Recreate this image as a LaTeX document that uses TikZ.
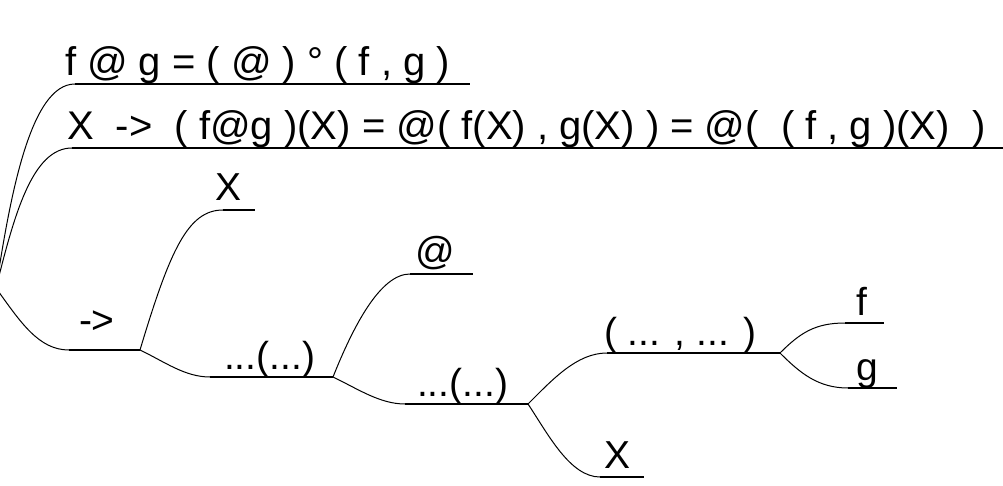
\documentclass[tikz,border=0pt]{standalone}
\usepackage{fontspec}
\setmainfont{Liberation Sans}
\begin{document}
\begin{tikzpicture}[x=1pt,y=-1pt,
  lbl/.style={inner sep=0pt,outer sep=0pt,font=\fontsize{39}{46}\selectfont},
  big/.style={lbl,font=\fontsize{40}{47}\selectfont},
  conn/.style={line width=1pt},
  bar/.style={line width=1.4pt}]
\useasboundingbox (0,0) rectangle (1003,486);
% named points
\coordinate (R) at (-4,288);
\coordinate (l1s) at (75,84);   \coordinate (l1e) at (470,84);
\coordinate (l2s) at (72,148);  \coordinate (l2e) at (1010,148);
\coordinate (a1s) at (69,350);  \coordinate (B1) at (140,350);
\coordinate (x1s) at (223,210); \coordinate (x1e) at (255,210);
\coordinate (d1s) at (210,377); \coordinate (B2) at (333,377);
\coordinate (ats) at (410,274); \coordinate (ate) at (473,274);
\coordinate (d2s) at (405,404); \coordinate (B3) at (528,404);
\coordinate (ps) at (607,353);  \coordinate (B4) at (780,353);
\coordinate (x2s) at (600,477); \coordinate (x2e) at (644,477);
\coordinate (fs) at (845,323);  \coordinate (fe) at (884,323);
\coordinate (gs) at (848,388);  \coordinate (ge) at (897,388);
% texts
\node[big,anchor=base west] (t1) at (65,76) {f @ g = ( @ ) ° ( f , g )};
\node[big,anchor=base west] (t2) at (67,140) {X\ \ ->\ \ ( f@g )(X) = @( f(X) , g(X) ) = @(\ \ ( f , g )(X)\ \ )};
\node[lbl,anchor=base west] (tarrow) at (79,333) {->};
\node[lbl,anchor=base] (tx1) at (229,201) {X};
\node[lbl,anchor=base west] (td1) at (224,369) {...(...)};
\node[lbl,anchor=base] (tat) at (435,264) {@};
\node[lbl,anchor=base west] (td2) at (417,396) {...(...)};
\node[lbl,anchor=base west] (tp) at (604,345) {( ... , ... )};
\node[lbl,anchor=base] (tx2) at (617,468) {X};
\node[lbl,anchor=base] (tf) at (862,315) {f};
\node[lbl,anchor=base] (tg) at (867,380) {g};
% connectors
\draw[conn] (R) .. controls +(14,-90) and +(-45,0) .. (l1s);
\draw[conn] (R) .. controls +(18,-72) and +(-40,0) .. (l2s);
\draw[conn] (R) .. controls +(25,35) and +(-30,0) .. (a1s);
\draw[bar] (l1s) -- (l1e);
\draw[bar] (l2s) -- (l2e);
\draw[bar] (a1s) -- (B1);
\draw[conn] (B1) .. controls +(30,-100) and +(-35,0) .. (x1s);
\draw[bar] (x1s) -- (x1e);
\draw[conn] (B1) .. controls +(25,12) and +(-25,0) .. (d1s);
\draw[bar] (d1s) -- (B2);
\draw[conn] (B2) .. controls +(20,-50) and +(-30,0) .. (ats);
\draw[bar] (ats) -- (ate);
\draw[conn] (B2) .. controls +(25,12) and +(-25,0) .. (d2s);
\draw[bar] (d2s) -- (B3);
\draw[conn] (B3) .. controls +(25,-25) and +(-30,0) .. (ps);
\draw[bar] (ps) -- (B4);
\draw[conn] (B3) .. controls +(20,30) and +(-30,0) .. (x2s);
\draw[bar] (x2s) -- (x2e);
\draw[conn] (B4) .. controls +(20,-20) and +(-30,0) .. (fs);
\draw[bar] (fs) -- (fe);
\draw[conn] (B4) .. controls +(20,20) and +(-30,0) .. (gs);
\draw[bar] (gs) -- (ge);
\end{tikzpicture}
\end{document}
